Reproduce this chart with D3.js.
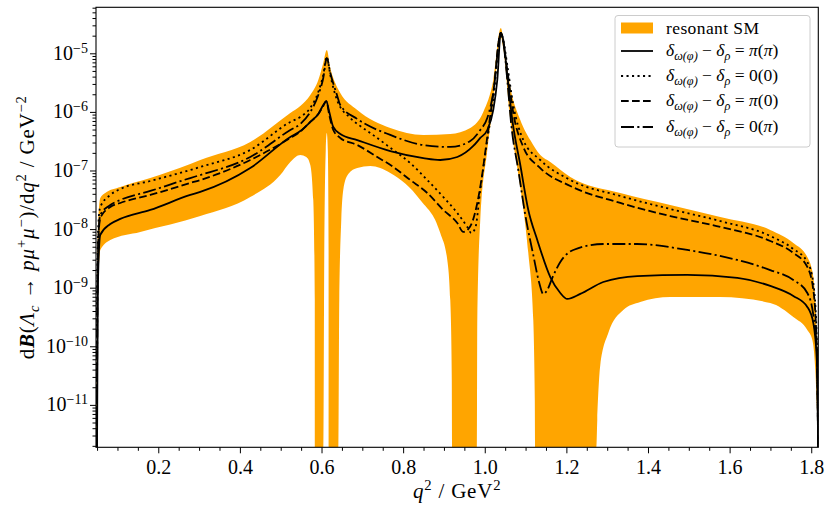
<!DOCTYPE html>
<html>
<head>
<meta charset="utf-8">
<script src="https://cdn.jsdelivr.net/npm/d3@7"></script>
<style>
  body { margin: 0; background: #fff; }
  svg text { font-family: "Liberation Serif", "DejaVu Serif", serif; fill: #000; }
</style>
</head>
<body>
<svg id="chart" width="826" height="509"></svg>
<script>
// q^2 [GeV^2], dB/dq^2 [GeV^-2]; 1e-13 = below the axis
const bandUpper = [
  [0.0474, 1e-13], [0.0493, 1e-13], [0.0505, 2.97e-9], [0.0530, 1.43e-8], [0.0579, 3.40e-8],
  [0.0701, 4.13e-8], [0.1069, 5.23e-8], [0.1804, 7.44e-8], [0.2784, 1.29e-7], [0.3029, 1.51e-7],
  [0.4254, 3.06e-7], [0.5235, 9.57e-7], [0.5480, 1.26e-6], [0.5725, 1.94e-6], [0.5921, 3.50e-6],
  [0.6043, 6.82e-6], [0.6129, 1.14e-5], [0.6215, 5.61e-6], [0.6337, 3.11e-6], [0.6460, 2.10e-6],
  [0.6876, 1.08e-6], [0.7685, 5.31e-7], [0.8494, 4.04e-7], [0.9155, 4.20e-7], [0.9645, 5.31e-7],
  [0.9964, 9.96e-7], [1.0209, 3.50e-6], [1.0393, 2.70e-5], [1.0503, 9.35e-6], [1.0626, 2.66e-6],
  [1.0871, 7.28e-7], [1.1115, 3.31e-7], [1.1361, 1.84e-7], [1.1606, 1.40e-7], [1.2096, 7.74e-8],
  [1.3321, 4.13e-8], [1.4546, 2.58e-8], [1.5771, 1.61e-8], [1.6996, 9.66e-9], [1.7561, 5.80e-9],
  [1.7904, 3.34e-9], [1.8051, 1.52e-9], [1.8149, 8.65e-11], [1.8170, 1e-13]
]

const bandLower = [
  [0.0474, 1e-13], [0.0517, 6.17e-10], [0.0554, 2.97e-9], [0.0579, 4.40e-9], [0.0824, 6.52e-9],
  [0.1559, 8.93e-9], [0.3029, 1.67e-8], [0.4254, 3.53e-8], [0.4989, 8.37e-8], [0.5235, 1.40e-7],
  [0.5480, 1.84e-7], [0.5627, 1.70e-7], [0.5725, 1.24e-7], [0.5798, 3.14e-8], [0.5835, 6.17e-10],
  [0.5847, 1e-13], [0.6043, 1e-13], [0.6068, 4.40e-9], [0.6104, 2.24e-7], [0.6129, 4.36e-7],
  [0.6154, 2.24e-7], [0.6173, 4.40e-9], [0.6178, 1e-13], [0.6418, 1e-13], [0.6435, 6.17e-10],
  [0.6484, 1.43e-8], [0.6533, 4.65e-8], [0.6656, 8.71e-8], [0.6876, 1.10e-7], [0.7195, 1.19e-7],
  [0.7685, 9.06e-8], [0.8420, 3.14e-8], [0.8910, 8.59e-9], [0.9082, 2.97e-9], [0.9155, 6.17e-10],
  [0.9192, 2.66e-11], [0.9204, 1e-13], [0.9810, 1e-13], [0.9817, 2.81e-10], [0.9890, 1.43e-8],
  [1.0054, 1.99e-7], [1.0209, 1.42e-6], [1.0393, 1.90e-5], [1.0454, 1.23e-5], [1.0626, 7.28e-7],
  [1.0871, 5.23e-8], [1.1067, 3.91e-9], [1.1189, 2.81e-10], [1.1226, 1.21e-11], [1.1238, 1e-13],
  [1.2733, 1e-13], [1.2757, 5.52e-12], [1.2831, 4.80e-11], [1.3027, 1.69e-10], [1.3394, 4.17e-10],
  [1.3811, 5.70e-10], [1.4546, 6.95e-10], [1.5771, 6.95e-10], [1.6996, 5.48e-10], [1.7561, 3.16e-10],
  [1.7904, 1.90e-10], [1.8027, 1.28e-10], [1.8100, 3.94e-11], [1.8149, 5.52e-12], [1.8170, 1e-13]
]

// delta_omega(phi) - delta_rho = pi(pi)
const solidPiPi = [
  [0.0500, 1e-13], [0.0517, 6.17e-10], [0.0542, 3.61e-9], [0.0579, 7.93e-9], [0.0824, 1.22e-8],
  [0.1069, 1.49e-8], [0.1804, 2.12e-8], [0.2784, 3.82e-8], [0.3029, 4.30e-8], [0.4254, 1.10e-7],
  [0.5235, 3.73e-7], [0.5480, 4.72e-7], [0.5725, 6.73e-7], [0.5921, 9.20e-7], [0.6043, 1.31e-6],
  [0.6117, 1.53e-6], [0.6190, 9.96e-7], [0.6288, 5.52e-7], [0.6460, 4.20e-7], [0.6876, 3.31e-7],
  [0.7685, 2.15e-7], [0.8494, 1.63e-7], [0.8910, 1.51e-7], [0.9327, 1.70e-7], [0.9719, 2.62e-7],
  [0.9890, 3.59e-7], [1.0062, 4.91e-7], [1.0209, 1.08e-6], [1.0307, 3.50e-6], [1.0393, 2.22e-5],
  [1.0454, 1.69e-5], [1.0552, 4.27e-6], [1.0675, 7.28e-7], [1.0871, 1.24e-7], [1.1067, 2.12e-8],
  [1.1287, 6.52e-9], [1.1606, 1.52e-9], [1.1851, 8.12e-10], [1.2022, 6.42e-10], [1.2341, 7.82e-10],
  [1.2904, 1.25e-9], [1.3737, 1.58e-9], [1.4962, 1.65e-9], [1.6187, 1.47e-9], [1.6996, 1.07e-9],
  [1.7561, 7.22e-10], [1.7904, 4.69e-10], [1.8051, 2.50e-10], [1.8137, 5.83e-11], [1.8169, 1e-13]
]

// 0(0)
const dotted00 = [
  [0.0493, 1e-13], [0.0505, 1.35e-9], [0.0530, 1.18e-8], [0.0579, 2.38e-8], [0.0824, 3.82e-8],
  [0.1069, 4.83e-8], [0.1804, 6.62e-8], [0.2784, 1.02e-7], [0.3029, 1.15e-7], [0.4254, 2.24e-7],
  [0.5235, 6.73e-7], [0.5480, 8.18e-7], [0.5725, 1.17e-6], [0.5921, 2.19e-6], [0.6043, 4.27e-6],
  [0.6129, 8.65e-6], [0.6215, 4.27e-6], [0.6379, 1.60e-6], [0.6705, 7.87e-7], [0.6950, 5.74e-7],
  [0.7195, 4.36e-7], [0.7758, 2.24e-7], [0.8175, 1.34e-7], [0.8592, 6.88e-8], [0.8984, 3.53e-8],
  [0.9327, 1.88e-8], [0.9572, 1.09e-8], [0.9670, 8.59e-9], [0.9768, 1.04e-8], [0.9890, 4.65e-8],
  [1.0062, 3.31e-7], [1.0209, 1.60e-6], [1.0393, 2.22e-5], [1.0454, 1.69e-5], [1.0552, 6.31e-6],
  [1.0699, 1.31e-6], [1.0944, 3.31e-7], [1.1361, 1.51e-7], [1.2096, 6.88e-8], [1.3321, 3.67e-8],
  [1.4546, 2.20e-8], [1.5771, 1.37e-8], [1.6996, 7.63e-9], [1.7561, 4.58e-9], [1.7904, 2.75e-9],
  [1.8051, 1.20e-9], [1.8137, 1.28e-10], [1.8169, 1e-13]
]

// pi(0)
const dashedPi0 = [
  [0.0495, 1e-13], [0.0513, 1.35e-9], [0.0542, 8.93e-9], [0.0579, 1.55e-8], [0.0824, 2.38e-8],
  [0.1069, 2.79e-8], [0.1804, 3.82e-8], [0.2784, 6.12e-8], [0.3029, 6.88e-8], [0.4254, 1.51e-7],
  [0.5235, 3.59e-7], [0.5480, 4.60e-7], [0.5725, 6.73e-7], [0.5921, 9.20e-7], [0.6043, 1.26e-6],
  [0.6117, 1.53e-6], [0.6190, 8.85e-7], [0.6288, 4.91e-7], [0.6460, 3.59e-7], [0.6876, 2.72e-7],
  [0.7366, 1.70e-7], [0.7758, 1.15e-7], [0.8175, 6.88e-8], [0.8592, 4.13e-8], [0.8984, 2.12e-8],
  [0.9327, 1.27e-8], [0.9474, 8.93e-9], [0.9596, 1.00e-8], [0.9694, 1.32e-8], [0.9817, 2.79e-8],
  [0.9890, 5.23e-8], [1.0062, 3.73e-7], [1.0209, 2.10e-6], [1.0393, 2.22e-5], [1.0454, 1.56e-5],
  [1.0552, 5.19e-6], [1.0699, 9.57e-7], [1.0944, 2.52e-7], [1.1361, 1.10e-7], [1.2096, 5.44e-8],
  [1.3321, 2.79e-8], [1.4546, 1.67e-8], [1.5771, 1.09e-8], [1.6996, 6.27e-9], [1.7561, 3.91e-9],
  [1.7904, 2.26e-9], [1.8051, 9.14e-10], [1.8137, 8.65e-11], [1.8169, 1e-13]
]

// 0(pi)
const dashdot0Pi = [
  [0.0495, 1e-13], [0.0513, 1.35e-9], [0.0542, 9.66e-9], [0.0579, 1.74e-8], [0.0824, 2.58e-8],
  [0.1069, 3.14e-8], [0.1804, 4.47e-8], [0.2784, 7.44e-8], [0.3029, 8.37e-8], [0.4254, 1.70e-7],
  [0.5235, 4.91e-7], [0.5480, 6.22e-7], [0.5725, 9.96e-7], [0.5921, 1.94e-6], [0.6043, 3.79e-6],
  [0.6129, 8.32e-6], [0.6215, 4.61e-6], [0.6379, 1.94e-6], [0.6460, 1.31e-6], [0.6876, 7.57e-7],
  [0.7685, 4.04e-7], [0.8494, 2.72e-7], [0.9155, 2.52e-7], [0.9645, 3.19e-7], [0.9890, 4.91e-7],
  [1.0062, 7.87e-7], [1.0209, 2.10e-6], [1.0393, 2.22e-5], [1.0454, 1.56e-5], [1.0552, 3.50e-6],
  [1.0650, 5.98e-7], [1.0822, 1.02e-7], [1.0993, 1.74e-8], [1.1189, 3.61e-9], [1.1336, 1.20e-9],
  [1.1434, 7.82e-10], [1.1532, 9.14e-10], [1.1655, 1.47e-9], [1.1851, 2.75e-9], [1.2169, 4.40e-9],
  [1.2904, 5.57e-9], [1.3737, 5.57e-9], [1.4962, 4.40e-9], [1.6187, 2.97e-9], [1.6996, 2.00e-9],
  [1.7561, 1.35e-9], [1.7904, 8.12e-10], [1.8051, 3.42e-10], [1.8137, 8.65e-11], [1.8169, 1e-13]
]

const xMajorTicks = [0.2, 0.4, 0.6, 0.8, 1.0, 1.2, 1.4, 1.6, 1.8]
const yDecades = [-11, -10, -9, -8, -7, -6, -5]
const legendLabels = ['π(π)', '0(0)', 'π(0)', '0(π)']

const conf = {
  left: 96,
  right: 818.3,
  top: 7.3,
  bottom: 447.3,
  tickFont: 20,
  labelFont: 21,
  legendFont: 17.5,
  lineWidth: 1.8,
  orange: '#ffa500'
}

const svg = d3.select('#chart')

const x = d3.scaleLinear().domain([0.0474, 1.8173]).range([conf.left, conf.right])
const y = d3.scaleLog()
  .domain([Math.pow(10, -11.724), Math.pow(10, -4.215)])
  .range([conf.bottom, conf.top])
  .clamp(true)

svg.append('defs').append('clipPath').attr('id', 'plotclip')
  .append('rect')
  .attr('x', conf.left).attr('y', conf.top)
  .attr('width', conf.right - conf.left).attr('height', conf.bottom - conf.top)

const line = d3.line()
  .x(d => x(d[0]))
  .y(d => y(d[1]))
  .curve(d3.curveMonotoneX)

const plot = svg.append('g').attr('clip-path', 'url(#plotclip)')

// band: upper edge forward, lower edge back
const upperPath = line(bandUpper)
const lowerPath = line(bandLower.slice().reverse())
plot.append('path')
  .attr('d', upperPath + 'L' + lowerPath.slice(1) + 'Z')
  .attr('fill', conf.orange)
  .attr('stroke', 'none')

const series = [
  { data: solidPiPi, dash: null },
  { data: dotted00, dash: '2.1,3.4' },
  { data: dashedPi0, dash: '7.7,3.3' },
  { data: dashdot0Pi, dash: '13,3.3,2.1,3.3' }
]

series.forEach(s => {
  plot.append('path')
    .attr('d', line(s.data))
    .attr('fill', 'none')
    .attr('stroke', '#000')
    .attr('stroke-width', conf.lineWidth)
    .attr('stroke-dasharray', s.dash)
})

// rich text with italic / bold / super / subscripts
function rich (sel, segs, fs) {
  let shift = 0
  segs.forEach(([t, o = {}]) => {
    const target = o.sup ? -0.36 * fs : o.sub ? 0.22 * fs : 0
    sel.append('tspan')
      .attr('dy', target - shift)
      .attr('font-size', (o.sup || o.sub) ? fs * 0.7 : fs)
      .attr('font-style', o.i ? 'italic' : null)
      .attr('font-weight', o.b ? 'bold' : null)
      .attr('fill', '#000')
      .text(t)
    shift = target
  })
}

// axes
const minorX = d3.range(0.05, 1.8001, 0.05).filter(v => xMajorTicks.every(m => Math.abs(m - v) > 1e-6))
const xAxis = svg.append('g').attr('transform', `translate(0,${conf.bottom})`)
xAxis.call(d3.axisBottom(x).tickValues(xMajorTicks).tickSize(6).tickFormat(d3.format('.1f')))
xAxis.selectAll('text').attr('y', 26.5).attr('dy', 0).attr('font-size', conf.tickFont)
  .style('font-family', '"Liberation Serif", serif')
xAxis.append('g').call(d3.axisBottom(x).tickValues(minorX).tickSize(3.5).tickFormat(''))
xAxis.selectAll('.domain').remove()

const minorY = []
for (let d = -12; d <= -5; d++) {
  for (let k = 2; k <= 9; k++) {
    const v = k * Math.pow(10, d)
    if (v >= y.domain()[0] && v <= y.domain()[1]) minorY.push(v)
  }
}
const yAxis = svg.append('g').attr('transform', `translate(${conf.left},0)`)
yAxis.call(d3.axisLeft(y).tickValues(yDecades.map(e => Math.pow(10, e))).tickSize(6).tickFormat(''))
yAxis.append('g').call(d3.axisLeft(y).tickValues(minorY).tickSize(3.5).tickFormat(''))
yAxis.selectAll('.domain').remove()
svg.selectAll('.tick line').attr('stroke', '#000').attr('stroke-width', 1)

yDecades.forEach(e => {
  const t = svg.append('text')
    .attr('x', 88)
    .attr('y', y(Math.pow(10, e)) + 6.5)
    .attr('text-anchor', 'end')
  rich(t, [['10'], ['−' + (-e), { sup: 1 }]], conf.tickFont)
})

// frame
svg.append('rect')
  .attr('x', conf.left).attr('y', conf.top)
  .attr('width', conf.right - conf.left).attr('height', conf.bottom - conf.top)
  .attr('fill', 'none').attr('stroke', '#000').attr('stroke-width', 1.1)

// axis labels
const xl = svg.append('text')
  .attr('x', (conf.left + conf.right) / 2)
  .attr('y', 498)
  .attr('text-anchor', 'middle')
  .attr('letter-spacing', 0.8)
rich(xl, [['q', { i: 1 }], ['2', { sup: 1 }], [' / GeV'], ['2', { sup: 1 }]], conf.labelFont)

const yl = svg.append('text')
  .attr('transform', `translate(34,${(conf.top + conf.bottom) / 2}) rotate(-90)`)
  .attr('text-anchor', 'middle')
  .attr('letter-spacing', 0.8)
rich(yl, [
  ['d'], ['B', { i: 1, b: 1 }], ['('], ['Λ', { i: 1 }], ['c', { i: 1, sub: 1 }], [' → '],
  ['p', { i: 1 }], ['μ', { i: 1 }], ['+', { sup: 1 }], ['μ', { i: 1 }], ['−', { sup: 1 }],
  [')/d'], ['q', { i: 1 }], ['2', { sup: 1 }], [' / GeV'], ['−2', { sup: 1 }]
], conf.labelFont)

// legend
const lg = svg.append('g')
lg.append('rect')
  .attr('x', 615).attr('y', 15.5).attr('width', 195).attr('height', 131.5)
  .attr('rx', 3).attr('fill', '#fff').attr('fill-opacity', 0.8)
  .attr('stroke', '#cccccc').attr('stroke-width', 1)

const rowY = [28, 51, 76, 101, 127]
lg.append('rect')
  .attr('x', 621).attr('y', rowY[0] - 5.5).attr('width', 32).attr('height', 11)
  .attr('fill', conf.orange)
const t0 = lg.append('text').attr('x', 666).attr('y', rowY[0] + 5.5).attr('letter-spacing', 0.4)
rich(t0, [['resonant SM']], conf.legendFont)

series.forEach((s, i) => {
  const yy = rowY[i + 1]
  lg.append('line')
    .attr('x1', 621).attr('x2', 653).attr('y1', yy).attr('y2', yy)
    .attr('stroke', '#000').attr('stroke-width', conf.lineWidth)
    .attr('stroke-dasharray', s.dash)
  const t = lg.append('text').attr('x', 666).attr('y', yy + 5)
  const lab = legendLabels[i]
  rich(t, [
    ['δ', { i: 1 }], ['ω(φ)', { i: 1, sub: 1 }], [' − '], ['δ', { i: 1 }], ['ρ', { i: 1, sub: 1 }],
    [' = '], [lab[0], { i: lab[0] === 'π' }], ['('], [lab[2], { i: lab[2] === 'π' }], [')']
  ], conf.legendFont)
})
</script>
</body>
</html>
